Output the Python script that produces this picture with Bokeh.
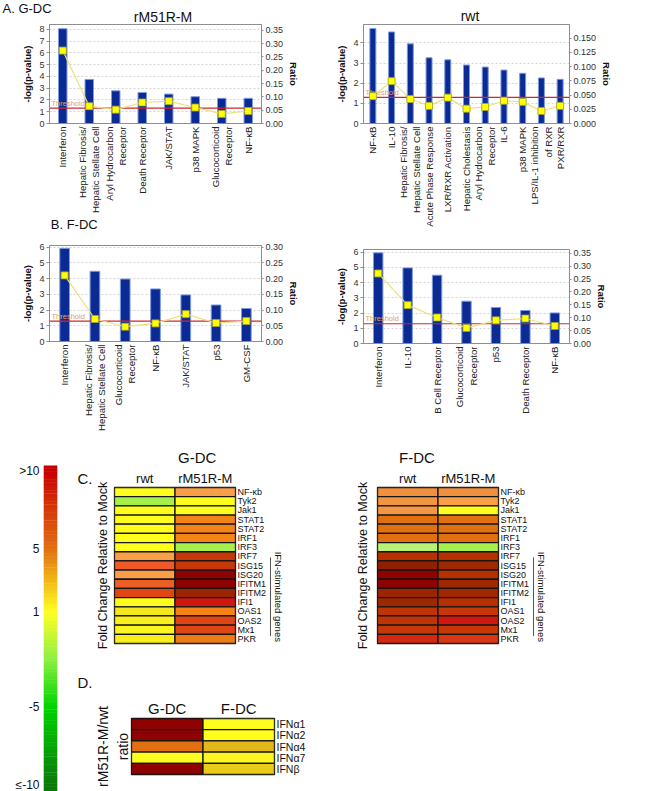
import numpy as np
from bokeh.plotting import figure
from bokeh.models import (Range1d, LinearAxis, FixedTicker, Span, Label,
                          NumeralTickFormatter, FactorRange, ColumnDataSource)
from bokeh.layouts import row, column, Spacer
from bokeh.transform import linear_cmap
from bokeh.core.properties import value
from bokeh.embed import file_html
from bokeh.resources import INLINE

FONT = "Liberation Sans"

# ---------------- data ----------------
# A. G-DC, rM51R-M
a_m_paths = ["Interferon", "Hepatic Fibrosis/\nHepatic Stellate Cell", "Aryl Hydrocarbon\nReceptor",
             "Death Receptor", "JAK/STAT", "p38 MAPK", "Glucocorticoid\nReceptor", "NF-κB"]
a_m_logp = [8.06, 3.75, 2.78, 2.64, 2.50, 2.28, 2.14, 2.14]
a_m_ratio = [0.274, 0.065, 0.052, 0.079, 0.084, 0.060, 0.036, 0.047]
# A. G-DC, rwt
a_w_paths = ["NF-κB", "IL-10", "Hepatic Fibrosis/\nHepatic Stellate Cell", "Acute Phase Response",
             "LXR/RXR Activation", "Hepatic Cholestasis", "Aryl Hydrocarbon\nReceptor", "IL-6",
             "p38 MAPK", "LPS/IL-1 inhibition\nof RXR", "PXR/RXR"]
a_w_logp = [4.71, 4.54, 3.95, 3.26, 3.16, 2.90, 2.80, 2.65, 2.49, 2.26, 2.19]
a_w_ratio = [0.048, 0.0745, 0.043, 0.031, 0.0455, 0.026, 0.029, 0.040, 0.038, 0.022, 0.031]
# B. F-DC, rM51R-M
b_m_paths = ["Interferon", "Hepatic Fibrosis/\nHepatic Stellate Cell", "Glucocorticoid\nReceptor",
             "NF-κB", "JAK/STAT", "p53", "GM-CSF"]
b_m_logp = [5.92, 4.46, 3.97, 3.34, 2.96, 2.32, 2.10]
b_m_ratio = [0.210, 0.0715, 0.047, 0.0575, 0.087, 0.0587, 0.065]
# B. F-DC, rwt
b_w_paths = ["Interferon", "IL-10", "B Cell Receptor", "Glucocorticoid\nReceptor", "p53",
             "Death Receptor", "NF-κB"]
b_w_logp = [5.96, 4.97, 4.49, 2.78, 2.37, 2.17, 2.01]
b_w_ratio = [0.272, 0.149, 0.101, 0.0605, 0.090, 0.097, 0.068]
threshold = 1.3

# C. fold change relative to mock
c_cols = ["rwt", "rM51R-M"]
c_genes = ["NF-κb", "Tyk2", "Jak1", "STAT1", "STAT2", "IRF1", "IRF3", "IRF7", "ISG15", "ISG20",
           "IFITM1", "IFITM2", "IFI1", "OAS1", "OAS2", "Mx1", "PKR"]
c_gdc_rwt = [1, -2.5, 1, 1, 1, 1, 1, 3, 6.5, 3, 6.3, 7, 1, 1.3, 1.2, 1.1, 1.2]
c_gdc_m = [3, 1, 1, 5, 5, 5, -2.5, 10, 10, 16, 16, 13, 8.5, 5, 7, 7, 5.2]
c_fdc_rwt = [3.6, 3.4, 3.3, 5.6, 5.6, 5.6, -1.5, 11, 14, 16, 16, 13, 12.5, 10.5, 10.5, 10, 8]
c_fdc_m = [3.6, 3.0, 1, 5.6, 5.6, 5.6, -2.5, 11, 12.5, 11, 12.5, 12.5, 11, 10, 8.5, 10, 7.5]
isg_first = "ISG15"

# D. rM51R-M / rwt ratio
d_cols = ["G-DC", "F-DC"]
d_genes = ["IFNα1", "IFNα2", "IFNα4", "IFNα7", "IFNβ"]
d_gdc = [16, 16, 5.6, 1, 16]
d_fdc = [1, 1, 2, 1.1, 1.7]

# colour scale (legend bar) ticks
cb_ticks = [-10, -5, 1, 5, 10]
cb_tick_labels = {10: ">10", 5: "5", 1: "1", -5: "-5", -10: "≤-10"}


# ---------------- palettes ----------------
def ramp(anchors, lo, hi, n):
    vs = [a[0] for a in anchors]
    rgb = np.array([[int(c[i:i + 2], 16) for i in (1, 3, 5)] for _, c in anchors], float)
    out = []
    for x in np.linspace(lo, hi, n):
        r, g, b = (np.interp(x, vs, rgb[:, k]) for k in range(3))
        out.append("#%02x%02x%02x" % (int(round(r)), int(round(g)), int(round(b))))
    return out


HEAT_LO, HEAT_HI = -10, 16
HEAT_PAL = ramp([(-10, "#006400"), (-5, "#00c000"), (-2.5, "#a6f04a"), (-1.5, "#b8f276"),
                 (1, "#ffff1e"), (2, "#e0b818"), (3, "#f8a048"), (3.6, "#f09040"), (5, "#f58418"),
                 (5.6, "#e07010"), (6.5, "#f05a28"), (7, "#e04616"), (8.5, "#cf1810"),
                 (10, "#c83808"), (11, "#b83000"), (12.5, "#a02800"), (14, "#902000"),
                 (16, "#8e0202")], HEAT_LO, HEAT_HI, 520)
CB_PAL = ramp([(-10, "#0a7a0a"), (-5, "#00d400"), (-2, "#8cf040"), (1, "#ffff20"),
               (3, "#f2b814"), (5, "#e27012"), (7.5, "#d63a08"), (10, "#c80000")], -10, 10, 256)

AX_GREY = "#8e8e8e"


def base_fig(**kw):
    p = figure(output_backend="svg", toolbar_location=None, title_location=None, **kw)
    p.border_fill_color = "white"
    p.background_fill_color = "white"
    return p


def style_axis(ax, size="9px", tick_out=3, standoff=2):
    ax.major_label_text_font = FONT
    ax.major_label_text_font_size = size
    ax.major_label_text_color = "#333333"
    ax.major_tick_out = tick_out
    ax.major_tick_in = 0
    ax.minor_tick_out = 0
    ax.minor_tick_in = 0
    ax.axis_line_color = AX_GREY
    ax.major_tick_line_color = AX_GREY
    ax.major_label_standoff = standoff
    ax.axis_label_text_font = FONT
    ax.axis_label_text_font_style = "bold"
    ax.axis_label_text_font_size = "9.5px"
    ax.axis_label_text_color = "#111111"
    ax.axis_label_standoff = 3


def strip(W, H, items):
    """A bare text band: its data units are pixels, y counted from the top.
    items: (text, x, y_middle, font size, align)."""
    p = base_fig(x_range=Range1d(0, W), y_range=Range1d(H, 0), width=W, height=H,
                 min_border_left=0, min_border_right=0, min_border_top=0, min_border_bottom=0,
                 x_axis_location=None, y_axis_location=None)
    p.outline_line_color = None
    p.xgrid.visible = False
    p.ygrid.visible = False
    for txt, x, y, size, align in items:
        p.text(x=[x], y=[y], text=[txt], text_align=align, text_baseline="middle",
               text_font=value(FONT), text_font_size=value(size), text_color="#111111")
    return p


def bar_chart(paths, logp, ratio, W, H, bl, br, bt, bb, ytop, yticks, rtop, rticks, rfmt):
    p = base_fig(x_range=FactorRange(factors=paths), y_range=Range1d(0, ytop),
                 width=W, height=H, min_border_left=bl, min_border_right=br,
                 min_border_top=bt, min_border_bottom=bb)
    p.outline_line_color = AX_GREY
    p.xgrid.visible = False
    p.ygrid.grid_line_color = "#d4d4d4"
    p.ygrid.grid_line_dash = "2 2"
    ya = p.yaxis[0]
    ya.ticker = FixedTicker(ticks=yticks)
    ya.axis_label = "-log(p-value)"
    style_axis(ya)
    xa = p.xaxis[0]
    style_axis(xa, size="9.6px", tick_out=0, standoff=3)
    xa.major_label_orientation = np.pi / 2
    xa.major_label_text_color = "#222222"
    p.extra_y_ranges = {"ratio": Range1d(0, rtop)}
    ra = LinearAxis(y_range_name="ratio", ticker=FixedTicker(ticks=rticks),
                    formatter=NumeralTickFormatter(format=rfmt), axis_label="Ratio")
    style_axis(ra, tick_out=2, standoff=2)
    ra.axis_label_standoff = 2
    p.add_layout(ra, "right")
    p.vbar(x=paths, top=logp, width=0.32, fill_color="#0b2a94", line_color="#7d9be0", line_width=1)
    p.add_layout(Span(location=threshold, dimension="width", line_color="#d0282a", line_width=1.2))
    p.add_layout(Label(x=2, y=threshold, x_units="screen", y_units="data", y_offset=0.5,
                       text="Threshold", text_font=FONT, text_font_size="7.5px",
                       text_color="#e8a24a", text_baseline="bottom"))
    ln = p.line(x=paths, y=ratio, y_range_name="ratio", line_color="#efe07a", line_width=1.2)
    sc = p.scatter(x=paths, y=ratio, y_range_name="ratio", marker="square", size=7,
                   fill_color="#ffff00", line_color="#a6a22e", line_width=0.8)
    ln.level = "overlay"
    sc.level = "overlay"
    return p


def heatmap(cols, genes, col_vals, W, H, bl, br, bt, bb, col_size, row_size,
            ylabel, ylabel_size, ylabel_standoff):
    n, m = len(genes), len(cols)
    xs, ys, vs = [], [], []
    for i, vals in enumerate(col_vals):
        for j, v in enumerate(vals):
            xs.append(i + 0.5)
            ys.append(n - j - 0.5)
            vs.append(v)
    src = ColumnDataSource(dict(x=xs, y=ys, v=vs))
    p = base_fig(x_range=Range1d(0, m), y_range=Range1d(0, n),
                 width=W, height=H, min_border_left=bl, min_border_right=br,
                 min_border_top=bt, min_border_bottom=bb,
                 x_axis_location="above", y_axis_location="right")
    p.xgrid.visible = False
    p.ygrid.visible = False
    p.outline_line_color = "#151515"
    p.outline_line_width = 1.3
    p.rect(x="x", y="y", width=1, height=1, source=src,
           fill_color=linear_cmap("v", HEAT_PAL, HEAT_LO, HEAT_HI),
           line_color="#151515", line_width=1.3)
    xa = p.xaxis[0]
    style_axis(xa, size=col_size, tick_out=0, standoff=2)
    xa.ticker = FixedTicker(ticks=[i + 0.5 for i in range(m)])
    xa.major_label_overrides = {i + 0.5: c for i, c in enumerate(cols)}
    xa.axis_line_color = None
    xa.major_label_text_color = "#111111"
    ya = p.yaxis[0]
    style_axis(ya, size=row_size, tick_out=0, standoff=2)
    ya.ticker = FixedTicker(ticks=[n - j - 0.5 for j in range(n)])
    ya.major_label_overrides = {n - j - 0.5: g for j, g in enumerate(genes)}
    ya.axis_line_color = None
    ya.major_label_text_color = "#111111"
    la = LinearAxis(ticker=FixedTicker(ticks=[]), axis_label=ylabel)
    style_axis(la, tick_out=0, standoff=0)
    la.axis_line_color = None
    la.axis_label_text_font_style = "normal"
    la.axis_label_text_font_size = ylabel_size
    la.axis_label_standoff = ylabel_standoff
    p.add_layout(la, "left")
    return p


def bracket(W, H, bt, bb_heat, genes, first, line_x, text_x):
    n = len(genes)
    row_h = (H - bt - bb_heat) / n
    p = base_fig(x_range=Range1d(0, W), y_range=Range1d(-bb_heat / row_h, n),
                 width=W, height=H, min_border_left=0, min_border_right=0,
                 min_border_top=bt, min_border_bottom=0,
                 x_axis_location=None, y_axis_location=None)
    p.outline_line_color = None
    p.xgrid.visible = False
    p.ygrid.visible = False
    top = n - genes.index(first)
    p.segment(x0=[line_x], y0=[0], x1=[line_x], y1=[top], line_color="#555555", line_width=1)
    p.text(x=[text_x], y=[top / 2], text=["IFN-stimulated genes"], angle=-np.pi / 2,
           text_align="center", text_baseline="middle", text_font=value(FONT),
           text_font_size=value("9.5px"), text_color="#111111")
    return p


# ---------------- panels A / B ----------------
head_a = strip(664, 24, [("A. G-DC", 2, 7.5, "13px", "left"),
                         ("rM51R-M", 162.5, 16.1, "14px", "center"),
                         ("rwt", 469.5, 15.6, "14px", "center")])

fa1 = bar_chart(a_m_paths, a_m_logp, a_m_ratio, 330, 191, 46, 38, 0, 90,
                8.42, list(range(0, 9)), 0.372, [0, .05, .1, .15, .2, .25, .3, .35], "0.00")
head_b = strip(330, 21, [("B. F-DC", 2, 8.5, "13px", "left")])
fb1 = bar_chart(b_m_paths, b_m_logp, b_m_ratio, 330, 212, 49, 69, 9, 107,
                6.1, list(range(0, 7)), 0.305, [0, .05, .1, .15, .2, .25, .3], "0.00")

fa2 = bar_chart(a_w_paths, a_w_logp, a_w_ratio, 334, 214, 26, 40, 0, 115,
                4.91, list(range(0, 5)), 0.174, [0, .025, .05, .075, .1, .125, .15], "0.000")
fb2 = bar_chart(b_w_paths, b_w_logp, b_w_ratio, 334, 210, 33, 95, 11, 105,
                6.18, list(range(0, 7)), 0.365, [0, .05, .1, .15, .2, .25, .3, .35], "0.00")

# ---------------- colour scale ----------------
CB_BOTTOM, CB_TOP = -10.38, 10.32
fcb = base_fig(x_range=Range1d(0, 1), y_range=Range1d(CB_BOTTOM, CB_TOP), width=70, height=343,
               min_border_left=43, min_border_right=13, min_border_top=17, min_border_bottom=0,
               x_axis_location=None)
fcb.xgrid.visible = False
fcb.ygrid.visible = False
fcb.outline_line_color = None
lv = np.linspace(CB_BOTTOM, CB_TOP, 208)
cb_src = ColumnDataSource(dict(b=lv[:-1], t=lv[1:] + 0.03, m=(lv[:-1] + lv[1:]) / 2))
fcb.quad(left=0, right=1, bottom="b", top="t", source=cb_src,
         fill_color=linear_cmap("m", CB_PAL, -10, 10), line_color=None)
cya = fcb.yaxis[0]
style_axis(cya, size="12px", tick_out=0, standoff=4)
cya.axis_line_color = None
cya.major_label_text_color = "#111111"
cya.ticker = FixedTicker(ticks=cb_ticks)
cya.major_label_overrides = cb_tick_labels

# ---------------- panel letters C / D ----------------
strip_cd = strip(22, 343, [("C.", 7, 13.8, "15px", "left"),
                           ("D.", 7, 228.8, "15px", "left")])

# ---------------- panel C ----------------
HC_H, HC_BT, HC_BB = 184, 15, 8
FC_LABEL = "Fold Change Relative to Mock"
head_c = strip(471, 19, [("G-DC", 79, 8.8, "15px", "center"),
                         ("F-DC", 343, 8.8, "15px", "center")])
fc1 = heatmap(c_cols, c_genes, [c_gdc_rwt, c_gdc_m], 176, HC_H, 21, 33, HC_BT, HC_BB,
              "13px", "9px", FC_LABEL, "12.5px", 5)
fc1b = bracket(30, HC_H, HC_BT, HC_BB, c_genes, isg_first, 2, 10)
fc2 = heatmap(c_cols, c_genes, [c_fdc_rwt, c_fdc_m], 233, HC_H, 79, 33, HC_BT, HC_BB,
              "13px", "9px", FC_LABEL, "12.5px", 8)
fc2b = bracket(32, HC_H, HC_BT, HC_BB, c_genes, isg_first, 2, 10)

# ---------------- panel D ----------------
fd = heatmap(d_cols, d_genes, [d_gdc, d_fdc], 222, 106, 36, 40, 33, 17,
             "15px", "10.5px", "rM51R-M/rwt\nratio", "14px", 1)

top = column(head_a, row(column(fa1, head_b, fb1), column(fa2, fb2)))
bottom = row(fcb, strip_cd,
             column(head_c, row(fc1, fc1b, fc2, fc2b), Spacer(width=10, height=34), fd))
root = column(top, bottom)

open("out.html", "w").write(file_html(root, INLINE))
